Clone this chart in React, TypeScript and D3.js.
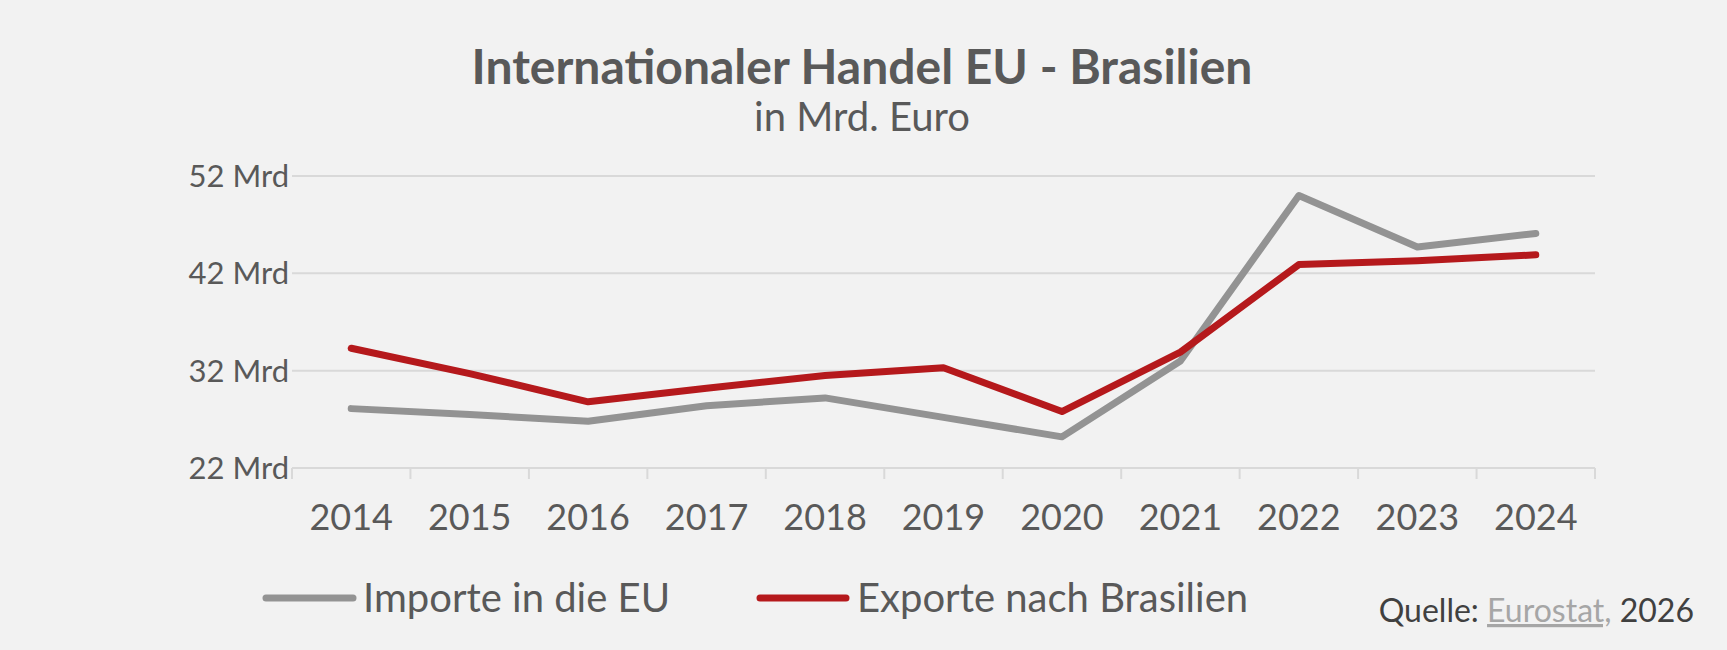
import * as d3 from "d3";

const years = ["2014", "2015", "2016", "2017", "2018", "2019", "2020", "2021", "2022", "2023", "2024"];
const imports = [28.1, 27.5, 26.8, 28.4, 29.2, 27.2, 25.2, 33.0, 50.0, 44.7, 46.1];
const exportsBr = [34.3, 31.7, 28.8, 30.2, 31.5, 32.3, 27.8, 33.9, 42.9, 43.3, 43.9];
const yTicks = [22, 32, 42, 52];

const W = 1727;
const H = 650;
const FONT = "Lato, 'Open Sans', sans-serif";
const GREY = "#939393";
const RED = "#b5191c";

export default function App() {
  const x = d3.scaleBand().domain(years).range([292, 1595]);
  const y = d3.scaleLinear().domain([22, 52]).range([468, 176]);
  const cx = (yr: string) => (x(yr) ?? 0) + x.bandwidth() / 2;
  const line = d3
    .line<number>()
    .x((_, i) => cx(years[i]))
    .y((v) => y(v));

  return (
    <svg width={W} height={H} style={{ position: "absolute", left: 0, top: 0, background: "#f2f2f2" }} fontFamily={FONT}>
      <rect width={W} height={H} fill="#f2f2f2" />
      <text x={862} y={84} textAnchor="middle" fontSize={48} fontWeight={700} fill="#595959">
        Internationaler Handel EU - Brasilien
      </text>
      <text x={862} y={131} textAnchor="middle" fontSize={40} fill="#595959">
        in Mrd. Euro
      </text>

      {yTicks.map((t) => (
        <g key={t}>
          {t !== 22 && <line x1={292} x2={1595} y1={y(t)} y2={y(t)} stroke="#d9d9d9" strokeWidth={2} />}
          <text x={289} y={y(t)} dy="0.35em" textAnchor="end" fontSize={31} fill="#595959">
            {t} Mrd
          </text>
        </g>
      ))}

      <line x1={292} x2={1595} y1={468} y2={468} stroke="#d9d9d9" strokeWidth={2} />
      {[...years.map((yr) => x(yr) ?? 0), 1595].map((px, i) => (
        <line key={i} x1={px} x2={px} y1={468} y2={479} stroke="#d9d9d9" strokeWidth={2} />
      ))}
      {years.map((yr) => (
        <text key={yr} x={cx(yr)} y={530} textAnchor="middle" fontSize={36} fill="#595959">
          {yr}
        </text>
      ))}

      <path d={line(imports) ?? ""} fill="none" stroke={GREY} strokeWidth={7} strokeLinecap="round" strokeLinejoin="round" />
      <path d={line(exportsBr) ?? ""} fill="none" stroke={RED} strokeWidth={7} strokeLinecap="round" strokeLinejoin="round" />

      <line x1={266} x2={353} y1={598} y2={598} stroke={GREY} strokeWidth={7} strokeLinecap="round" />
      <text x={363} y={612} fontSize={40} fill="#595959">Importe in die EU</text>
      <line x1={760} x2={846} y1={598} y2={598} stroke={RED} strokeWidth={7} strokeLinecap="round" />
      <text x={857} y={612} fontSize={40} fill="#595959">Exporte nach Brasilien</text>

      <text x={1694} y={622} textAnchor="end" fontSize={32} fill="#404040">
        Quelle: <tspan fill="#a6a6a6" textDecoration="underline">Eurostat,</tspan> 2026
      </text>
    </svg>
  );
}
